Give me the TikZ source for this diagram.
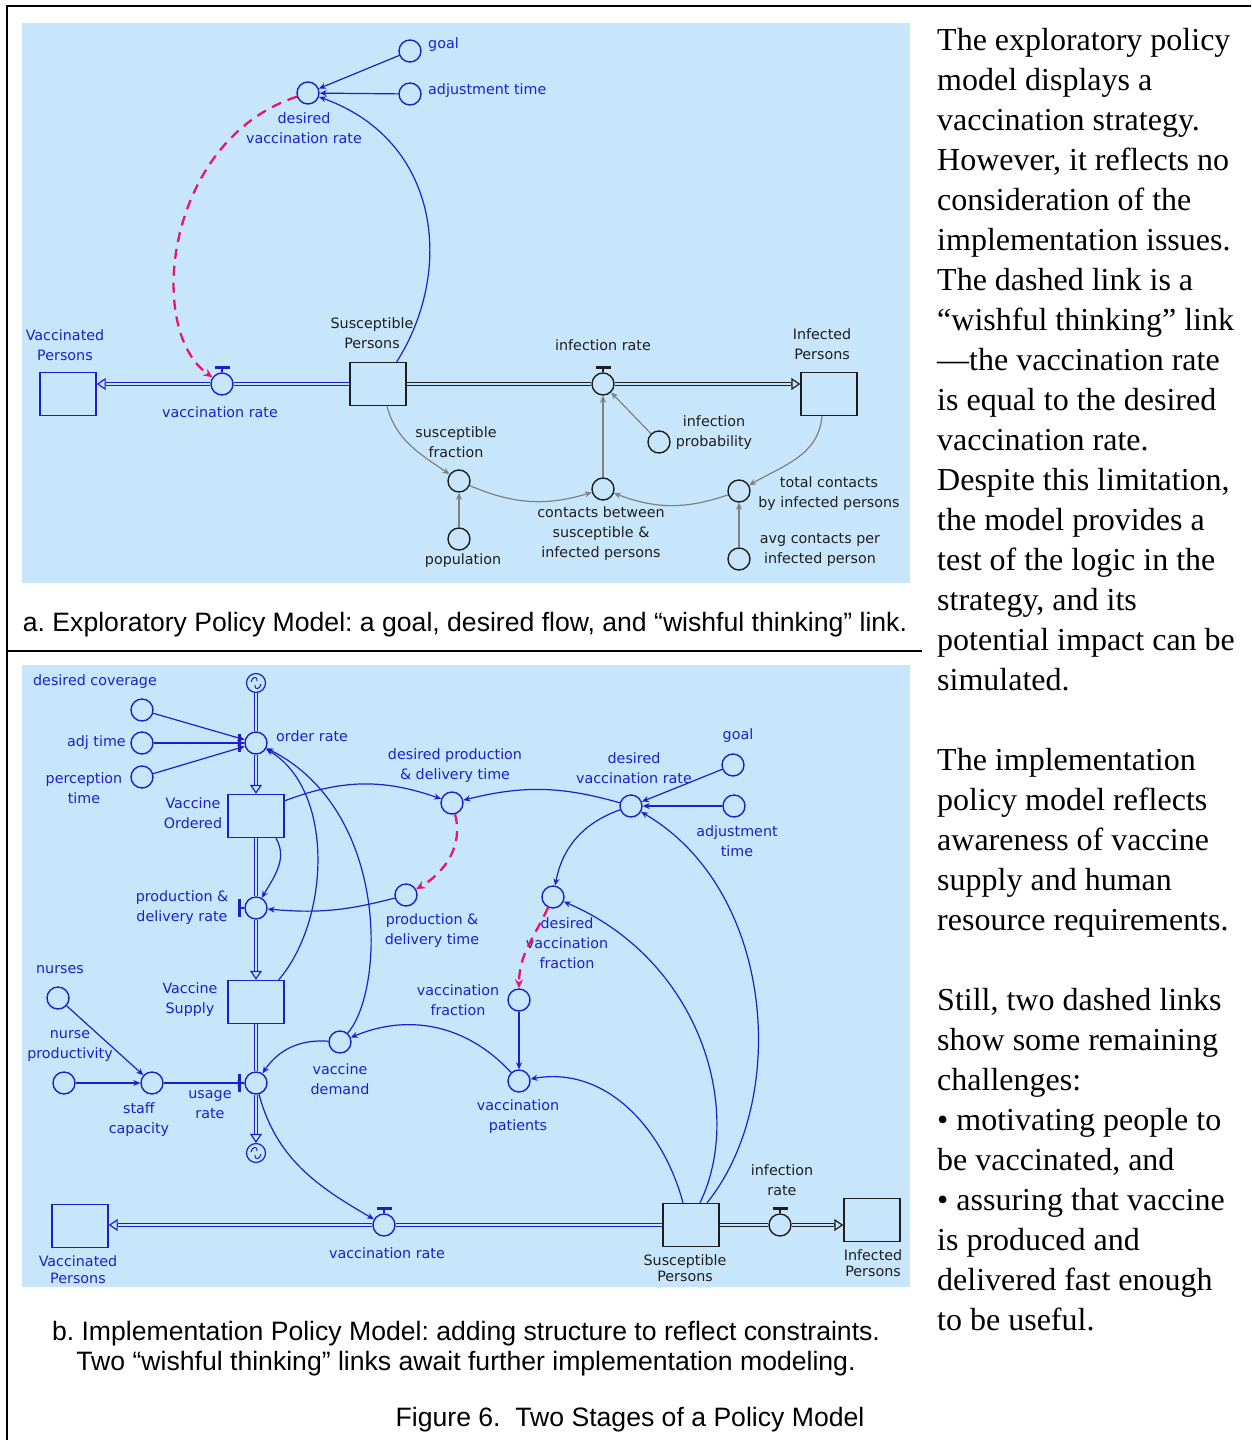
\documentclass[tikz,border=0pt]{standalone}
\usepackage{fontspec}
\setmainfont{Liberation Serif}
\newfontfamily\diagfont{DejaVu Sans}
\newfontfamily\capfont{Liberation Sans}
\usetikzlibrary{arrows.meta,calc}
\frenchspacing

\definecolor{panelbg}{RGB}{199,230,252}
\definecolor{vblue}{RGB}{30,30,205}
\definecolor{wish}{RGB}{232,20,110}
\definecolor{greylink}{RGB}{128,128,128}
\definecolor{ink}{RGB}{30,30,30}

\tikzset{
  aux/.style={circle, draw=vblue, fill=panelbg, line width=1.4pt, minimum size=22pt, inner sep=0pt},
  stock/.style={draw=vblue, fill=panelbg, line width=1.4pt, minimum width=56pt, minimum height=43pt, inner sep=0pt},
  lbl/.style={text=vblue, font=\diagfont\fontsize{14.3}{20}\selectfont, align=center, inner sep=0pt},
  link/.style={draw=vblue, line width=1.2pt, -{Stealth[length=7pt,width=6pt]}},
  glink/.style={draw=greylink, line width=1.2pt, -{Stealth[length=7pt,width=6pt]}},
  wishful/.style={draw=wish, line width=2.3pt, dash pattern=on 10pt off 7pt, -{Stealth[length=9pt,width=8pt]}},
  flow/.style={draw=vblue, line width=1.2pt, double=panelbg, double distance=2pt},
  tipo/.style={draw=vblue, line width=1.2pt, -{Triangle[open,length=9pt,width=12pt]}}
}

% valve handles
\newcommand{\valvetop}[2]{%
  \draw[#2, line width=1.2pt] (#1.north) -- ++(0,-5);
  \draw[#2, line width=2.4pt] ($(#1.north)+(-7.5,-5)$) -- ++(15,0);
}
\newcommand{\valveleft}[2]{%
  \draw[#2, line width=1.2pt] (#1.west) -- ++(-5,0);
  \draw[#2, line width=2.4pt] ($(#1.west)+(-5,-9)$) -- ++(0,18);
}
% cloud (source / sink)
\newcommand{\cloudat}[2]{%
  \node[circle, draw=vblue, fill=panelbg, line width=1.2pt, minimum size=19pt, inner sep=0pt] (#1) at #2 {};
  \draw[vblue, line width=1pt] ($(#1.center)+(-5,-1)$) .. controls ($(#1.center)+(-4,-7)$) and ($(#1.center)+(2,-7)$) .. ($(#1.center)+(1,-2)$);
  \draw[vblue, line width=1pt] ($(#1.center)+(5,1)$) .. controls ($(#1.center)+(4,7)$) and ($(#1.center)+(-2,7)$) .. ($(#1.center)+(-1,2)$);
}

\begin{document}
\begin{tikzpicture}[x=1pt,y=-1pt]
\useasboundingbox (0,0) rectangle (1251,1440);

% frame
\draw[line width=2.5pt] (1251,6) -- (7,6) -- (7,1440);
\draw[line width=2pt] (7,651) -- (922,651);

% panels
\fill[panelbg] (22,23) rectangle (910,583);
\fill[panelbg] (22,665) rectangle (910,1287);

%%% a. exploratory model
\node[aux] (goalA) at (410,51) {};
\node[lbl, anchor=west] (goalAl) at (428,45) {goal};
\node[aux] (adjA) at (410,94) {};
\node[lbl, anchor=west] (adjAl) at (428,91) {adjustment time};
\node[aux] (dvrA) at (308,93) {};
\node[lbl] (dvrAl) at (304,128) {desired\\vaccination rate};
\node[stock] (vacA) at (68,394) {};
\node[lbl] (vacAl) at (65,345) {Vaccinated\\Persons};
\node[aux] (vrA) at (222,384) {};
\node[lbl] (vrAl) at (220,412) {vaccination rate};
\node[stock, draw=ink] (susA) at (378,384) {};
\node[lbl, text=ink] (susAl) at (372,333) {Susceptible\\Persons};
\node[aux, draw=ink] (irA) at (603,384) {};
\node[lbl, text=ink] (irAl) at (603,345) {infection rate};
\node[stock, draw=ink] (infA) at (829,394) {};
\node[lbl, text=ink] (infAl) at (822,344) {Infected\\Persons};
\node[aux, draw=ink] (ipA) at (659,442) {};
\node[lbl, text=ink] (ipAl) at (714,433) {infection\\probability};
\node[aux, draw=ink] (cbA) at (603,489) {};
\node[lbl, text=ink] (cbAl) at (601,534) {contacts between\\susceptible \&\\infected persons};
\node[aux, draw=ink] (sfA) at (459,481) {};
\node[lbl, text=ink] (sfAl) at (456,442) {susceptible\\fraction};
\node[aux, draw=ink] (popA) at (459,539) {};
\node[lbl, text=ink] (popAl) at (463,561) {population};
\node[aux, draw=ink] (tcA) at (739,491) {};
\node[lbl, text=ink] (tcAl) at (829,494) {total contacts\\by infected persons};
\node[aux, draw=ink] (acA) at (739,559) {};
\node[lbl, text=ink] (acAl) at (820,550) {avg contacts per\\infected person};

\valvetop{vrA}{vblue}
\valvetop{irA}{ink}

\draw[flow] (susA.west) -- (vrA);
\draw[flow, shorten >=9pt] (vrA) -- (vrA -| vacA.east);
\draw[tipo] ($(vrA -| vacA.east)+(9,0)$) -- (vrA -| vacA.east);
\draw[flow, draw=ink] (susA.east) -- (irA);
\draw[flow, draw=ink, shorten >=9pt] (irA) -- (irA -| infA.west);
\draw[tipo, draw=ink] ($(irA -| infA.west)+(-9,0)$) -- (irA -| infA.west);

\draw[link] (goalA) -- (dvrA);
\draw[link] (adjA) -- (dvrA);
\draw[link] ([xshift=-10pt]susA.north east) .. controls (455,270) and (440,140) .. (dvrA);
\draw[wishful] (dvrA) .. controls (165,140) and (145,330) .. (vrA);

\draw[glink] (ipA) -- (irA);
\draw[glink] (cbA) -- (irA);
\draw[glink] (popA) -- (sfA);
\draw[glink] (acA) -- (tcA);
\draw[glink] ([xshift=9pt]susA.south) to[out=-75,in=145] (sfA);
\draw[glink] (sfA) to[bend right=20] (cbA);
\draw[glink] ([xshift=-7pt]infA.south) to[out=-95,in=30] (tcA);
\draw[glink] (tcA) to[bend left=20] (cbA);

\node[font=\capfont\fontsize{26.6}{30}\selectfont, anchor=base, inner sep=0pt] (capA) at (465,631)
  {a. Exploratory Policy Model: a goal, desired flow, and “wishful thinking” link.};

%%% b. implementation model
\cloudat{cldT}{(256,683)}
\cloudat{cldB}{(256,1153)}
\node[aux] (orB) at (256,743) {};
\node[lbl, anchor=west] (orBl) at (276,736) {order rate};
\node[aux] (dcB) at (142,710) {};
\node[lbl] (dcBl) at (95,682) {desired coverage};
\node[aux] (atB) at (142,743) {};
\node[lbl, anchor=east] (atBl) at (126,743) {adj time};
\node[aux] (ptB) at (142,777) {};
\node[lbl] (ptBl) at (84,788) {perception\\time};
\node[stock] (voB) at (256,816) {};
\node[lbl] (voBl) at (193,813) {Vaccine\\Ordered};
\node[aux] (pdrB) at (256,908) {};
\node[lbl] (pdrBl) at (182,908) {production \&\\delivery rate};
\node[stock] (vsB) at (256,1002) {};
\node[lbl] (vsBl) at (190,1000) {Vaccine\\Supply};
\node[aux] (urB) at (256,1083) {};
\node[lbl] (urBl) at (210,1105) {usage\\rate};
\node[aux] (nuB) at (58,998) {};
\node[lbl] (nuBl) at (60,970) {nurses};
\node[aux] (npB) at (64,1083) {};
\node[lbl] (npBl) at (70,1046) {nurse\\productivity};
\node[aux] (scB) at (152,1083) {};
\node[lbl] (scBl) at (139,1120) {staff\\capacity};
\node[aux] (vdB) at (340,1042) {};
\node[lbl] (vdBl) at (340,1079) {vaccine\\demand};
\node[aux] (dpB) at (452,803) {};
\node[lbl] (dpBl) at (455,766) {desired production\\\& delivery time};
\node[aux] (pdtB) at (406,895) {};
\node[lbl] (pdtBl) at (432,931) {production \&\\delivery time};
\node[aux] (dvrB) at (631,806) {};
\node[lbl] (dvrBl) at (634,768) {desired\\vaccination rate};
\node[aux] (goalB) at (733,765) {};
\node[lbl] (goalBl) at (738,736) {goal};
\node[aux] (adjB) at (734,806) {};
\node[lbl] (adjBl) at (737,841) {adjustment\\time};
\node[aux] (dvfB) at (553,897) {};
\node[lbl] (dvfBl) at (567,943) {desired\\vaccination\\fraction};
\node[aux] (vfB) at (519,1000) {};
\node[lbl] (vfBl) at (458,1000) {vaccination\\fraction};
\node[aux] (vpB) at (519,1081) {};
\node[lbl] (vpBl) at (518,1117) {vaccination\\patients};
\node[stock] (vacB) at (80,1226) {};
\node[lbl, font=\diagfont\fontsize{14.3}{17}\selectfont] (vacBl) at (78,1270) {Vaccinated\\Persons};
\node[aux] (vrB) at (384,1225) {};
\node[lbl] (vrBl) at (387,1253) {vaccination rate};
\node[stock, draw=ink] (susB) at (691,1225) {};
\node[lbl, text=ink, font=\diagfont\fontsize{14.3}{16}\selectfont] (susBl) at (685,1268) {Susceptible\\Persons};
\node[aux, draw=ink] (irB) at (780,1225) {};
\node[lbl, text=ink] (irBl) at (782,1180) {infection\\rate};
\node[stock, draw=ink] (infB) at (872,1220) {};
\node[lbl, text=ink, font=\diagfont\fontsize{14.3}{16}\selectfont] (infBl) at (873,1263) {Infected\\Persons};

\valveleft{orB}{vblue}
\valveleft{pdrB}{vblue}
\valveleft{urB}{vblue}
\valvetop{vrB}{vblue}
\valvetop{irB}{ink}

% flows
\draw[flow] (cldT) -- (orB);
\draw[flow, shorten >=9pt] (orB) -- (voB.north);
\draw[tipo] ($(voB.north)+(0,-9)$) -- (voB.north);
\draw[flow] (voB.south) -- (pdrB);
\draw[flow, shorten >=9pt] (pdrB) -- (vsB.north);
\draw[tipo] ($(vsB.north)+(0,-9)$) -- (vsB.north);
\draw[flow] (vsB.south) -- (urB);
\draw[flow, shorten >=9pt] (urB) -- (cldB.north);
\draw[tipo] ($(cldB.north)+(0,-9)$) -- (cldB.north);
\draw[flow] (susB.west) -- (vrB);
\draw[flow, shorten >=9pt] (vrB) -- (vrB -| vacB.east);
\draw[tipo] ($(vrB -| vacB.east)+(9,0)$) -- (vrB -| vacB.east);
\draw[flow, draw=ink] (susB.east) -- (irB);
\draw[flow, draw=ink, shorten >=9pt] (irB) -- (irB -| infB.west);
\draw[tipo, draw=ink] ($(irB -| infB.west)+(-9,0)$) -- (irB -| infB.west);

% links
\draw[link] (dcB) -- (orB);
\draw[link] (atB) -- (orB);
\draw[link] (ptB) -- (orB);
\draw[link] ([xshift=20pt]voB.south) to[out=-60,in=60] (pdrB);
\draw[link] (pdtB) to[bend left=10] (pdrB);
\draw[link] ([xshift=-6pt]vsB.north east) .. controls (330,920) and (335,790) .. (orB);
\draw[link] (vdB) .. controls (385,990) and (390,810) .. (orB);
\draw[link] ([yshift=-7pt]voB.north east) to[bend left=20] (dpB);
\draw[link] (dvrB) to[bend right=15] (dpB);
\draw[link] (goalB) -- (dvrB);
\draw[link] (adjB) -- (dvrB);
\draw[link] ([xshift=16pt]susB.north) .. controls (790,1100) and (775,890) .. (dvrB);
\draw[link] (dvrB) to[bend right=30] (dvfB);
\draw[link] ([xshift=9pt]susB.north) .. controls (745,1110) and (700,960) .. (dvfB);
\draw[link] ([xshift=-8pt]susB.north) to[out=105,in=10] (vpB);
\draw[link] (vfB) -- (vpB);
\draw[link] (vpB) to[bend right=35] (vdB);
\draw[link] (vdB) to[bend right=30] (urB);
\draw[link] (nuB) -- (scB);
\draw[link] (npB) -- (scB);
\draw[link] (scB) -- (urB);
\draw[link] (urB) to[out=-75,in=150] (vrB);
\draw[wishful] (dpB) to[out=-75,in=30] (pdtB);
\draw[wishful] (dvfB) to[out=-115,in=90] (vfB);

\node[font=\capfont\fontsize{26.6}{30}\selectfont, anchor=base, inner sep=0pt] (capB1) at (466,1340)
  {b. Implementation Policy Model: adding structure to reflect constraints.};
\node[font=\capfont\fontsize{26.6}{30}\selectfont, anchor=base, inner sep=0pt] (capB2) at (466,1370)
  {Two “wishful thinking” links await further implementation modeling.};
\node[font=\capfont\fontsize{26.6}{30}\selectfont, anchor=base, inner sep=0pt] (figcap) at (630,1426)
  {Figure 6.\ \ Two Stages of a Policy Model};

% side text
\foreach \ln [count=\i from 0] in {{The exploratory policy},{model displays a},{vaccination strategy.},
  {However, it reflects no},{consideration of the},{implementation issues.},{The dashed link is a},
  {“wishful thinking” link},{—the vaccination rate},{is equal to the desired},{vaccination rate.},
  {Despite this limitation,},{the model provides a},{test of the logic in the},{strategy, and its},
  {potential impact can be},{simulated.},{},{The implementation},{policy model reflects},
  {awareness of vaccine},{supply and human},{resource requirements.},{},{Still, two dashed links},
  {show some remaining},{challenges:},{• motivating people to},{be vaccinated, and},
  {• assuring that vaccine},{is produced and},{delivered fast enough},{to be useful.}}
  \node[anchor=base west, inner sep=0pt, font=\fontsize{32}{40}\selectfont] (side\i) at (937,50+40*\i) {\ln};

\end{tikzpicture}
\end{document}
